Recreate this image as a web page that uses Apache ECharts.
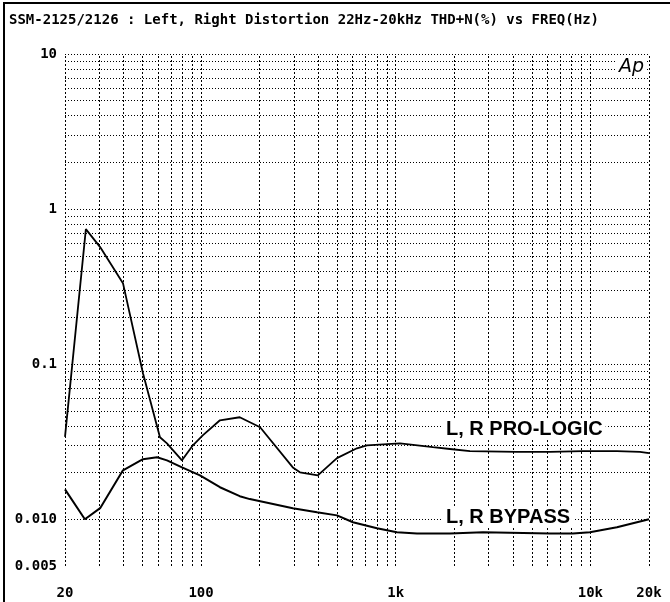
<!DOCTYPE html>
<html>
<head>
<meta charset="utf-8">
<script src="https://cdn.jsdelivr.net/npm/echarts@6.0.0/dist/echarts.min.js"></script>
<style>
html,body{margin:0;padding:0;background:#fff;}
#chart{width:670px;height:602px;}
</style>
</head>
<body>
<div id="chart"></div>
<script>
// ---- data ----
var titleText = 'SSM-2125/2126 : Left, Right Distortion 22Hz-20kHz THD+N(%) vs FREQ(Hz)';

var proLogicFreq = [20, 25.6, 30.3, 39.7, 50.3, 61.5, 66.8, 79.8, 90.8, 102, 125, 158, 201, 296, 322, 398, 499, 632, 711, 1051, 1552, 1898, 2405, 4190, 6196, 9150, 13680, 17960, 20000];
var proLogicTHD  = [0.034, 0.743, 0.569, 0.333, 0.0875, 0.0338, 0.0309, 0.0240, 0.0300, 0.0348, 0.0435, 0.0455, 0.0392, 0.0216, 0.0201, 0.0192, 0.0248, 0.0287, 0.0300, 0.0309, 0.0292, 0.0284, 0.0275, 0.0272, 0.0272, 0.0275, 0.0275, 0.0272, 0.0267];

var bypassFreq = [20, 25.3, 30.3, 39.7, 50.3, 59.4, 66.8, 79.8, 98.7, 125, 158, 178, 296, 394, 499, 603, 801, 1014, 1286, 1898, 2806, 6196, 8130, 9940, 13680, 20000];
var bypassTHD  = [0.0156, 0.0100, 0.0118, 0.0207, 0.0244, 0.0251, 0.0240, 0.0216, 0.0192, 0.0161, 0.0141, 0.0135, 0.0118, 0.0111, 0.0106, 0.00957, 0.00875, 0.00824, 0.00811, 0.00811, 0.00824, 0.00811, 0.00811, 0.00824, 0.00888, 0.0100];

var xTickLabels = [20, 100, 1000, 10000, 20000];
var xTickText = ['20', '100', '1k', '10k', '20k'];
var yTickLabels = [0.005, 0.01, 0.1, 1, 10];
var yTickText = ['0.005', '0.010', '0.1', '1', '10'];

var xGridValues = [20,30,40,50,60,70,80,90,100,200,300,400,500,600,700,800,900,1000,2000,3000,4000,5000,6000,7000,8000,9000,10000,20000];
var yGridValues = [0.005,0.006,0.007,0.008,0.009,0.01,0.02,0.03,0.04,0.05,0.06,0.07,0.08,0.09,0.1,0.2,0.3,0.4,0.5,0.6,0.7,0.8,0.9,1,2,3,4,5,6,7,8,9,10];

var seriesNames = ['L, R PRO-LOGIC', 'L, R BYPASS'];

// ---- chart ----
function pairs(xs, ys){ return xs.map(function(x,i){ return [x, ys[i]]; }); }
function labelFor(values, texts){
  return function(v){
    for (var i=0;i<values.length;i++){ if (Math.abs(v-values[i]) <= values[i]*1e-6) return texts[i]; }
    return '';
  };
}

var chart = echarts.init(document.getElementById('chart'), null, {renderer:'canvas'});
var axisFont = {fontFamily:'DejaVu Sans Mono', fontWeight:'bold', fontSize:14, color:'#000'};

var gridLines = [];
xGridValues.forEach(function(v){ gridLines.push({xAxis:v, lineStyle:{type:[2,2], color:'#000', width:1, opacity:1}}); });
yGridValues.forEach(function(v){ gridLines.push({yAxis:v, lineStyle:{type:[1,2], color:'#000', width:1, opacity:1}}); });

chart.setOption({
  animation:false,
  backgroundColor:'#fff',
  title:{text:titleText, left:4, top:8, textStyle:{fontFamily:'DejaVu Sans Mono', fontWeight:'bold', fontSize:14, color:'#000'}},
  grid:{left:65, right:21, top:54, bottom:36},
  xAxis:{
    type:'log', logBase:10, min:20, max:20000,
    axisLine:{show:false}, axisTick:{show:false}, splitLine:{show:false}, minorSplitLine:{show:false},
    axisLabel:Object.assign({customValues:xTickLabels, formatter:labelFor(xTickLabels, xTickText), margin:20, showMinLabel:true, showMaxLabel:true}, axisFont)
  },
  yAxis:{
    type:'log', logBase:10, min:0.005, max:10,
    axisLine:{show:false}, axisTick:{show:false}, splitLine:{show:false},
    axisLabel:Object.assign({customValues:yTickLabels, formatter:labelFor(yTickLabels, yTickText), margin:8, showMinLabel:true, showMaxLabel:true}, axisFont)
  },
  series:[
    {type:'line', name:'grid', data:[], z:1, silent:true,
     markLine:{silent:true, symbol:'none', label:{show:false}, animation:false, data:gridLines}},
    {type:'line', name:seriesNames[0], data:pairs(proLogicFreq, proLogicTHD), showSymbol:false, z:3,
     lineStyle:{color:'#000', width:1.8}},
    {type:'line', name:seriesNames[1], data:pairs(bypassFreq, bypassTHD), showSymbol:false, z:3,
     lineStyle:{color:'#000', width:2}}
  ],
  graphic:[
    {type:'text', left:443, top:418, z:100, style:{text:seriesNames[0], font:'bold 20px "Liberation Sans", Arial, sans-serif', fill:'#000', backgroundColor:'#fff', padding:[1,3]}},
    {type:'text', left:443, top:506, z:100, style:{text:seriesNames[1], font:'bold 20px "Liberation Sans", Arial, sans-serif', fill:'#000', backgroundColor:'#fff', padding:[1,3]}},
    {type:'text', left:617, top:58, z:100, style:{text:'Ap', font:'italic 19px "DejaVu Sans", sans-serif', fill:'#000', backgroundColor:'#fff', padding:[0,2]}},
    {type:'line', z:100, shape:{x1:4, y1:2, x2:4, y2:602}, style:{stroke:'#000', lineWidth:2}},
    {type:'line', z:100, shape:{x1:4, y1:3, x2:670, y2:3}, style:{stroke:'#000', lineWidth:2}}
  ]
});
</script>
</body>
</html>
